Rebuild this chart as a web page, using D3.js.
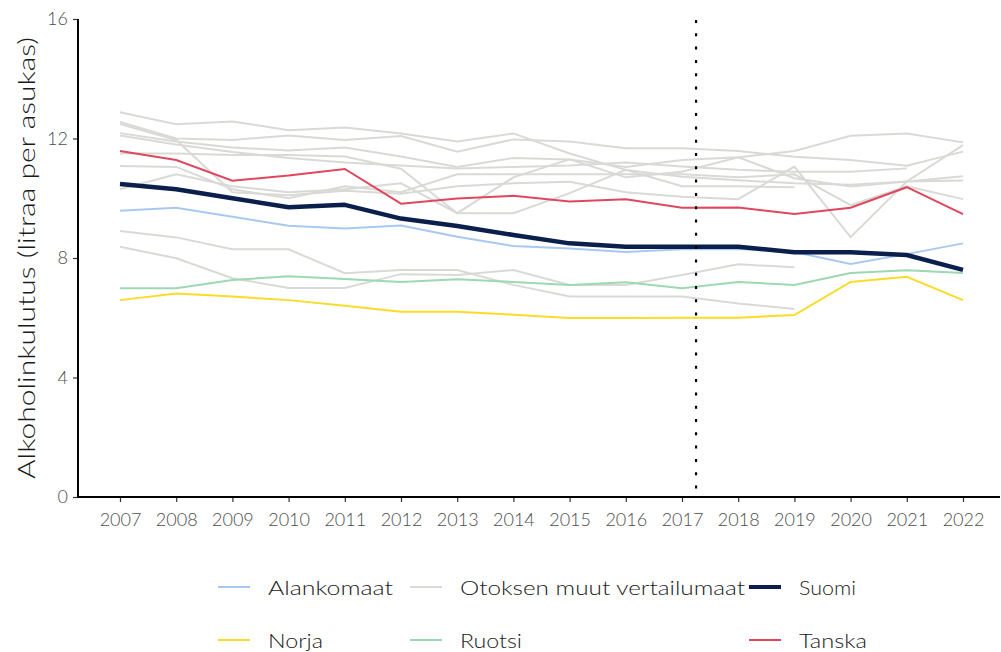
<!DOCTYPE html>
<html><head><meta charset="utf-8">
<script src="https://cdn.jsdelivr.net/npm/d3@7"></script>
<style>body{margin:0;background:#fff}svg{display:block;font-family:"Lato","Open Sans",sans-serif;font-weight:300}</style>
</head><body><svg id="c" width="1001" height="652"></svg>
<script>
const years = [2007,2008,2009,2010,2011,2012,2013,2014,2015,2016,2017,2018,2019,2020,2021,2022];
const yTicks = [0,4,8,12,16];
const suomi      = [10.48,10.30,10.00,9.70,9.78,9.32,9.07,8.77,8.49,8.38,8.38,8.38,8.19,8.19,8.10,7.60];
const alankomaat = [9.58,9.68,9.38,9.08,8.99,9.09,8.71,8.40,8.32,8.20,8.29,8.30,8.20,7.80,8.13,8.49];
const tanska     = [11.58,11.28,10.59,10.76,10.98,9.82,9.99,10.08,9.89,9.97,9.68,9.69,9.47,9.68,10.37,9.47];
const norja      = [6.59,6.81,6.71,6.59,6.40,6.20,6.20,6.10,5.99,5.99,6.00,6.00,6.09,7.20,7.37,6.59];
const ruotsi     = [6.99,6.99,7.26,7.39,7.30,7.20,7.29,7.20,7.10,7.19,6.99,7.20,7.10,7.50,7.59,7.50];
const muut = [
  [12.88,12.48,12.57,12.28,12.37,12.17,11.90,12.17,11.50,10.95,10.72,10.60,10.50,10.45,10.56,10.59],
  [12.55,12.00,11.95,12.10,11.95,12.08,11.56,11.97,11.90,11.67,11.67,11.58,11.39,11.28,11.09,11.56],
  [12.48,11.95,10.20,10.10,10.25,10.15,10.40,10.50,10.55,10.20,10.05,9.97,11.06,8.70,10.56,11.78],
  [12.18,11.90,11.70,11.60,11.70,11.40,11.05,11.35,11.30,11.05,11.28,11.37,11.58,12.09,12.17,11.87],
  [12.10,11.80,11.55,11.35,11.20,11.10,11.00,11.05,11.10,11.20,11.06,10.95,10.89,10.89,11.00,null],
  [11.50,11.50,11.45,11.45,11.40,10.99,9.50,10.70,11.30,10.70,10.89,11.37,10.67,10.39,10.56,10.74],
  [11.08,11.05,10.30,10.00,10.40,10.20,10.80,10.80,10.80,10.80,10.80,10.70,10.80,9.77,10.40,9.97],
  [10.30,10.80,10.40,10.20,10.30,10.50,9.50,9.50,10.17,10.95,10.40,10.40,10.37,null,null,null],
  [8.90,8.69,8.29,8.29,7.49,7.60,7.60,7.10,6.71,6.71,6.71,6.48,6.29,null,null,null],
  [8.38,7.99,7.32,7.00,7.00,7.46,7.43,7.60,7.10,7.10,7.43,7.79,7.69,null,null,null]
];
const markerYear = 2017.25;

const svg = d3.select("#c");
const x = d3.scaleLinear().domain([2007,2022]).range([120,963]);
const y = d3.scaleLinear().domain([0,16]).range([497,19]);
const line = d3.line().defined(d=>d[1]!=null).x(d=>x(d[0])).y(d=>y(d[1]));
const pts = arr => years.map((yr,i)=>[yr,arr[i]]);

const grey="#d9d9d6", cols={Alankomaat:"#a9c8f1",Norja:"#fbdb2a",Ruotsi:"#9dd8b1",Tanska:"#e0475f",Suomi:"#0b1f4d"};

muut.forEach(s=>svg.append("path").attr("d",line(pts(s))).attr("fill","none").attr("stroke",grey).attr("stroke-width",2));
[["Alankomaat",alankomaat],["Norja",norja],["Ruotsi",ruotsi],["Tanska",tanska]].forEach(([n,s])=>
  svg.append("path").attr("d",line(pts(s))).attr("fill","none").attr("stroke",cols[n]).attr("stroke-width",2));
svg.append("path").attr("d",line(pts(suomi))).attr("fill","none").attr("stroke",cols.Suomi).attr("stroke-width",4.5).attr("stroke-linejoin","round");

svg.append("line").attr("x1",x(markerYear)).attr("x2",x(markerYear)).attr("y1",y(16)+1).attr("y2",y(0))
  .attr("stroke","#000").attr("stroke-width",2.2).attr("stroke-dasharray","3,10.3");

const yAxis = svg.append("g").attr("transform","translate(78,0)")
  .call(d3.axisLeft(y).tickValues(yTicks).tickSize(5).tickPadding(5).tickFormat(d3.format("d")));
const xAxis = svg.append("g").attr("transform","translate(0,497)")
  .call(d3.axisBottom(x).tickValues(years).tickSize(5).tickPadding(11).tickFormat(d3.format("d")));
[yAxis,xAxis].forEach(g=>{
  g.select(".domain").remove();
  g.selectAll(".tick line").attr("stroke","#333").attr("stroke-width",1.2);
  g.selectAll(".tick text").attr("fill","#4d4d4d").attr("font-size",18).attr("font-family","Lato, sans-serif").attr("font-weight",300);
});
svg.append("line").attr("x1",78).attr("x2",78).attr("y1",y(16)).attr("y2",y(0)+1).attr("stroke","#000").attr("stroke-width",2);
svg.append("line").attr("x1",77).attr("x2",1000).attr("y1",y(0)).attr("y2",y(0)).attr("stroke","#000").attr("stroke-width",2);

svg.append("text").attr("transform","translate(35,258) rotate(-90)").attr("text-anchor","middle")
  .attr("font-size",24).attr("fill","#1a1a1a").attr("textLength",442).attr("lengthAdjust","spacingAndGlyphs")
  .text("Alkoholinkulutus (litraa per asukas)");

const legend = [
  {name:"Alankomaat",col:cols.Alankomaat,w:2,lx:218,ty:587,tl:125},
  {name:"Otoksen muut vertailumaat",col:grey,w:2,lx:410,ty:587,tl:285},
  {name:"Suomi",col:cols.Suomi,w:4,lx:749,ty:587,tl:57},
  {name:"Norja",col:cols.Norja,w:2,lx:218,ty:640,tl:55},
  {name:"Ruotsi",col:cols.Ruotsi,w:2,lx:410,ty:640,tl:62},
  {name:"Tanska",col:cols.Tanska,w:2,lx:749,ty:640,tl:68}
];
const lg = svg.append("g");
legend.forEach(d=>{
  lg.append("line").attr("x1",d.lx).attr("x2",d.lx+32).attr("y1",d.ty).attr("y2",d.ty).attr("stroke",d.col).attr("stroke-width",d.w);
  lg.append("text").attr("x",d.lx+50).attr("y",d.ty+8).attr("font-size",19).attr("fill","#1a1a1a")
    .attr("textLength",d.tl).attr("lengthAdjust","spacingAndGlyphs").text(d.name);
});
</script></body></html>
